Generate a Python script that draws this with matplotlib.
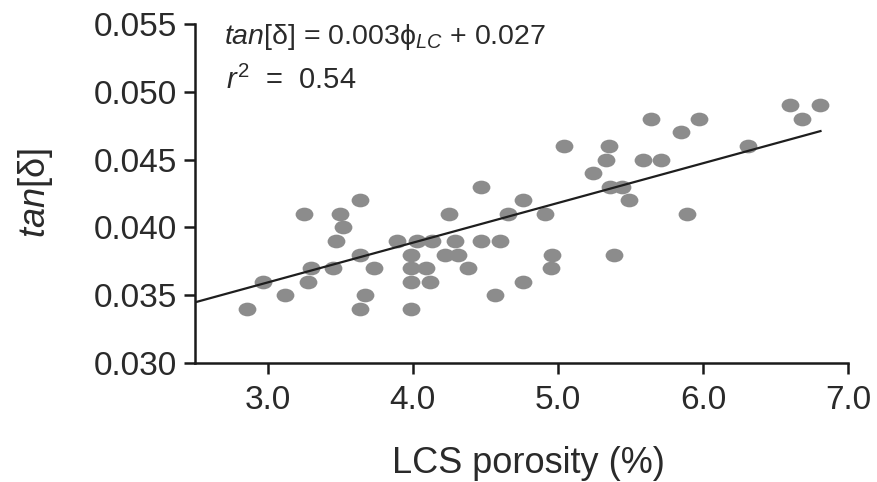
import matplotlib as mpl
mpl.use('Agg')
import matplotlib.pyplot as plt
from matplotlib.path import Path
from matplotlib.transforms import Affine2D
import numpy as np

plt.rcParams['font.family'] = ['Liberation Sans', 'DejaVu Sans']
plt.rcParams['mathtext.fontset'] = 'custom'
plt.rcParams['mathtext.rm'] = 'Liberation Sans'
plt.rcParams['mathtext.it'] = 'Liberation Sans:italic'

# LCS porosity (%) and tan[delta]
porosity = [2.86, 2.97, 3.12, 3.25, 3.28, 3.30, 3.45, 3.47, 3.50, 3.52,
            3.64, 3.64, 3.64, 3.67, 3.73, 3.89, 3.99, 3.99, 3.99, 3.99,
            4.03, 4.09, 4.12, 4.13, 4.22, 4.25, 4.29, 4.31, 4.38, 4.47,
            4.47, 4.57, 4.60, 4.66, 4.76, 4.76, 4.91, 4.96, 4.95, 5.04,
            5.24, 5.33, 5.35, 5.36, 5.44, 5.49, 5.39, 5.59, 5.64, 5.71,
            5.85, 5.89, 5.97, 6.31, 6.60, 6.68, 6.81]
tan_delta = [0.034, 0.036, 0.035, 0.041, 0.036, 0.037, 0.037, 0.039, 0.041, 0.040,
             0.042, 0.038, 0.034, 0.035, 0.037, 0.039, 0.038, 0.037, 0.036, 0.034,
             0.039, 0.037, 0.036, 0.039, 0.038, 0.041, 0.039, 0.038, 0.037, 0.043,
             0.039, 0.035, 0.039, 0.041, 0.042, 0.036, 0.041, 0.038, 0.037, 0.046,
             0.044, 0.045, 0.046, 0.043, 0.043, 0.042, 0.038, 0.045, 0.048, 0.045,
             0.047, 0.041, 0.048, 0.046, 0.049, 0.048, 0.049]

# fitted line as drawn on the chart
slope = 0.00293
intercept = 0.02715
fit_x = [2.5, max(porosity)]

xticks = [3.0, 4.0, 5.0, 6.0, 7.0]
yticks = [0.030, 0.035, 0.040, 0.045, 0.050, 0.055]

fig = plt.figure(figsize=(8.77, 4.82), dpi=100)
ax = fig.add_axes([0.2224, 0.2469, 0.7446, 0.7033])

ellipse = Affine2D().scale(1, 0.77).transform_path(Path.unit_circle())
ax.plot(porosity, tan_delta, linestyle='none', marker=ellipse, markersize=12.8,
        markerfacecolor='#8c8c8c', markeredgecolor='none', zorder=2)
ax.plot(fit_x, [slope * v + intercept for v in fit_x], color='#1e1e1e', lw=1.6, zorder=3)

ax.set_xlim(2.5, 7.0)
ax.set_ylim(0.030, 0.055)
ax.set_xticks(xticks)
ax.set_xticklabels(['%.1f' % v for v in xticks])
ax.set_yticks(yticks)
ax.set_yticklabels(['%.3f' % v for v in yticks])

for s in ['top', 'right']:
    ax.spines[s].set_visible(False)
for s in ['left', 'bottom']:
    ax.spines[s].set_linewidth(1.8)
    ax.spines[s].set_color('#1a1a1a')
ax.tick_params(width=1.8, length=8, labelsize=24, color='#1a1a1a', labelcolor='#2a2a2a')
ax.tick_params(axis='x', pad=8)
ax.tick_params(axis='y', pad=5)

ax.set_xlabel('LCS porosity (%)', fontsize=26, color='#2a2a2a')
ax.xaxis.set_label_coords(0.51, -0.245)
ax.set_ylabel(r'$\it{tan}$[δ]', fontsize=26, color='#2a2a2a')
ax.yaxis.set_label_coords(-0.214, 0.5)

ax.text(0.045, 0.962, r'$\it{tan}$[δ] = 0.003$\mathrm{\phi}_{\it{LC}}$ + 0.027',
        transform=ax.transAxes, fontsize=20.5, color='#2a2a2a', va='center')
ax.text(0.047, 0.835, r'$\it{r}^{2}$  =  0.54',
        transform=ax.transAxes, fontsize=21, color='#2a2a2a', va='center')

fig.savefig('out.png', dpi=100)
